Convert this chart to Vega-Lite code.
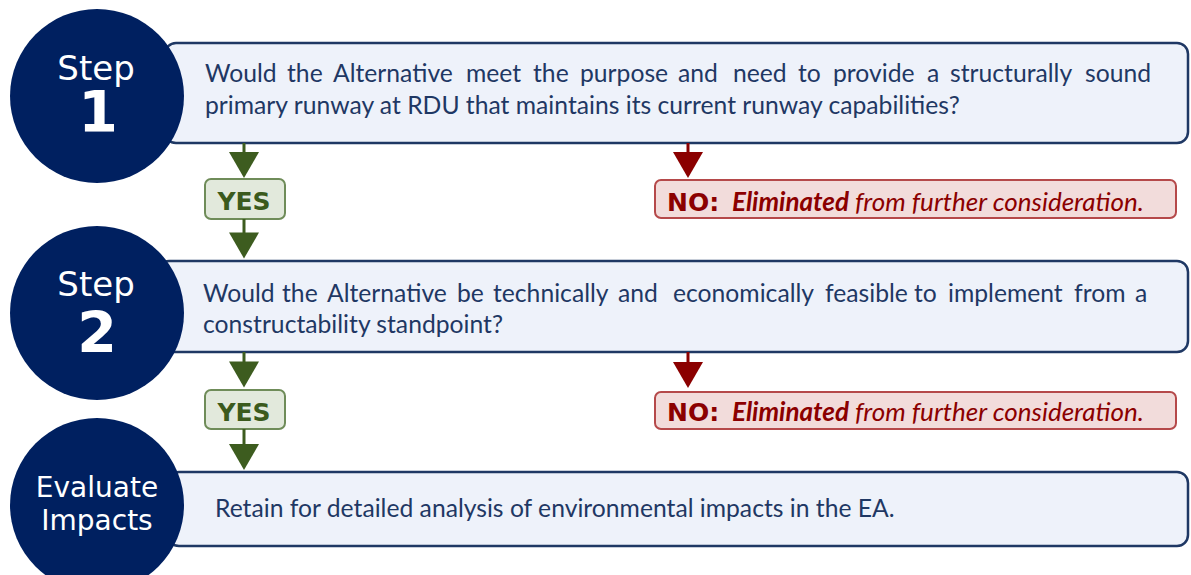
{
  "$schema": "https://vega.github.io/schema/vega-lite/v6.json",
  "width": 1191,
  "height": 575,
  "autosize": {"type": "none"},
  "padding": 0,
  "background": "white",
  "config": {"view": {"stroke": null}, "axis": null},
  "datasets": {
    "boxes": [
      {"x": 165, "x2": 1188, "y": 43, "y2": 143},
      {"x": 158, "x2": 1188, "y": 261, "y2": 352},
      {"x": 168, "x2": 1188, "y": 472, "y2": 546}
    ],
    "yesBoxes": [
      {"x": 205, "x2": 285, "y": 179, "y2": 219},
      {"x": 205, "x2": 285, "y": 390, "y2": 429}
    ],
    "noBoxes": [
      {"x": 655, "x2": 1176, "y": 180, "y2": 218},
      {"x": 655, "x2": 1176, "y": 392, "y2": 429}
    ],
    "greenStems": [
      {"x": 244, "y": 143, "y2": 157},
      {"x": 244, "y": 219, "y2": 237},
      {"x": 244, "y": 352, "y2": 366},
      {"x": 244, "y": 429, "y2": 448}
    ],
    "greenHeads": [
      {"x": 244, "y": 165},
      {"x": 244, "y": 245.5},
      {"x": 244, "y": 374.5},
      {"x": 244, "y": 457}
    ],
    "redStems": [
      {"x": 688, "y": 143, "y2": 157},
      {"x": 688, "y": 352, "y2": 366}
    ],
    "redHeads": [
      {"x": 688, "y": 165},
      {"x": 688, "y": 375}
    ],
    "circles": [
      {"x": 97, "y": 96},
      {"x": 97, "y": 313},
      {"x": 97, "y": 505}
    ],
    "stepLabels": [
      {"x": 96, "y": 80, "text": "Step"},
      {"x": 96, "y": 296, "text": "Step"}
    ],
    "numLabels": [
      {"x": 98, "y": 132, "text": "1"},
      {"x": 97, "y": 353, "text": "2"}
    ],
    "evalLabels": [
      {"x": 97, "y": 497, "text": "Evaluate"},
      {"x": 97, "y": 530, "text": "Impacts"}
    ],
    "bodyText": [
      {"x": 205, "y": 82, "text": "Would"},
      {"x": 287, "y": 82, "text": "the"},
      {"x": 333, "y": 82, "text": "Alternative"},
      {"x": 466, "y": 82, "text": "meet"},
      {"x": 533, "y": 82, "text": "the"},
      {"x": 580, "y": 82, "text": "purpose"},
      {"x": 678, "y": 82, "text": "and"},
      {"x": 733, "y": 82, "text": "need"},
      {"x": 798, "y": 82, "text": "to"},
      {"x": 833, "y": 82, "text": "provide"},
      {"x": 927, "y": 82, "text": "a"},
      {"x": 950, "y": 82, "text": "structurally"},
      {"x": 1085, "y": 82, "text": "sound"},
      {"x": 205, "y": 114, "text": "primary runway at RDU that maintains its current runway capabilities?"},
      {"x": 203, "y": 302, "text": "Would"},
      {"x": 282, "y": 302, "text": "the"},
      {"x": 327, "y": 302, "text": "Alternative"},
      {"x": 457, "y": 302, "text": "be"},
      {"x": 493, "y": 302, "text": "technically"},
      {"x": 618, "y": 302, "text": "and"},
      {"x": 673, "y": 302, "text": "economically"},
      {"x": 825, "y": 302, "text": "feasible"},
      {"x": 914, "y": 302, "text": "to"},
      {"x": 948, "y": 302, "text": "implement"},
      {"x": 1074, "y": 302, "text": "from"},
      {"x": 1135, "y": 302, "text": "a"},
      {"x": 203, "y": 333, "text": "constructability standpoint?"},
      {"x": 215, "y": 517, "text": "Retain for detailed analysis of environmental impacts in the EA."}
    ],
    "yesText": [
      {"x": 244, "y": 210, "text": "YES"},
      {"x": 244, "y": 421, "text": "YES"}
    ],
    "noText": [
      {"x": 667, "y": 211, "text": "NO:"},
      {"x": 667, "y": 421, "text": "NO:"}
    ],
    "elimText": [
      {"x": 732, "y": 211, "text": "Eliminated"},
      {"x": 732, "y": 421, "text": "Eliminated"}
    ],
    "furtherText": [
      {"x": 855, "y": 211, "text": "from further consideration."},
      {"x": 855, "y": 421, "text": "from further consideration."}
    ]
  },
  "encoding": {
    "x": {"field": "x", "type": "quantitative", "scale": {"domain": [0, 1191], "nice": false, "zero": false}, "axis": null},
    "y": {"field": "y", "type": "quantitative", "scale": {"domain": [0, 575], "nice": false, "zero": false, "reverse": true}, "axis": null}
  },
  "layer": [
    {
      "data": {"name": "boxes"},
      "mark": {"type": "rect", "fill": "#eef2fa", "stroke": "#1f3864", "strokeWidth": 2.5, "cornerRadius": 11},
      "encoding": {"x2": {"field": "x2"}, "y2": {"field": "y2"}}
    },
    {
      "data": {"name": "yesBoxes"},
      "mark": {"type": "rect", "fill": "#e2e9dc", "stroke": "#6f8c59", "strokeWidth": 2, "cornerRadius": 6},
      "encoding": {"x2": {"field": "x2"}, "y2": {"field": "y2"}}
    },
    {
      "data": {"name": "noBoxes"},
      "mark": {"type": "rect", "fill": "#f2dcdb", "stroke": "#b5494a", "strokeWidth": 2, "cornerRadius": 6},
      "encoding": {"x2": {"field": "x2"}, "y2": {"field": "y2"}}
    },
    {
      "data": {"name": "greenStems"},
      "mark": {"type": "rule", "stroke": "#3d5c1f", "strokeWidth": 3},
      "encoding": {"y2": {"field": "y2"}}
    },
    {
      "data": {"name": "greenHeads"},
      "mark": {"type": "point", "shape": "M-1,-0.866L1,-0.866L0,0.866Z", "filled": true, "fill": "#3d5c1f", "opacity": 1, "size": 900, "strokeWidth": 0}
    },
    {
      "data": {"name": "redStems"},
      "mark": {"type": "rule", "stroke": "#8b0000", "strokeWidth": 3},
      "encoding": {"y2": {"field": "y2"}}
    },
    {
      "data": {"name": "redHeads"},
      "mark": {"type": "point", "shape": "M-1,-0.866L1,-0.866L0,0.866Z", "filled": true, "fill": "#8b0000", "opacity": 1, "size": 900, "strokeWidth": 0}
    },
    {
      "data": {"name": "circles"},
      "mark": {"type": "point", "shape": "circle", "filled": true, "fill": "#002060", "opacity": 1, "size": 30276, "strokeWidth": 0}
    },
    {
      "data": {"name": "stepLabels"},
      "mark": {"type": "text", "font": "DejaVu Sans", "fontSize": 34, "color": "white", "align": "center", "baseline": "alphabetic"},
      "encoding": {"text": {"field": "text"}}
    },
    {
      "data": {"name": "numLabels"},
      "mark": {"type": "text", "font": "DejaVu Sans", "fontWeight": "bold", "fontSize": 57, "color": "white", "align": "center", "baseline": "alphabetic"},
      "encoding": {"text": {"field": "text"}}
    },
    {
      "data": {"name": "evalLabels"},
      "mark": {"type": "text", "font": "DejaVu Sans", "fontSize": 28, "color": "white", "align": "center", "baseline": "alphabetic"},
      "encoding": {"text": {"field": "text"}}
    },
    {
      "data": {"name": "bodyText"},
      "mark": {"type": "text", "font": "Lato", "fontSize": 24.7, "color": "#1f3864", "align": "left", "baseline": "alphabetic"},
      "encoding": {"text": {"field": "text"}}
    },
    {
      "data": {"name": "yesText"},
      "mark": {"type": "text", "font": "DejaVu Sans", "fontWeight": "bold", "fontSize": 25, "color": "#3b5a1d", "align": "center", "baseline": "alphabetic"},
      "encoding": {"text": {"field": "text"}}
    },
    {
      "data": {"name": "noText"},
      "mark": {"type": "text", "font": "DejaVu Sans", "fontWeight": "bold", "fontSize": 25, "color": "#8b0000", "align": "left", "baseline": "alphabetic"},
      "encoding": {"text": {"field": "text"}}
    },
    {
      "data": {"name": "elimText"},
      "mark": {"type": "text", "font": "Lato", "fontWeight": "bold", "fontStyle": "italic", "fontSize": 26, "color": "#8b0000", "align": "left", "baseline": "alphabetic"},
      "encoding": {"text": {"field": "text"}}
    },
    {
      "data": {"name": "furtherText"},
      "mark": {"type": "text", "font": "Lato", "fontStyle": "italic", "fontSize": 26, "color": "#8b0000", "align": "left", "baseline": "alphabetic"},
      "encoding": {"text": {"field": "text"}}
    }
  ]
}
